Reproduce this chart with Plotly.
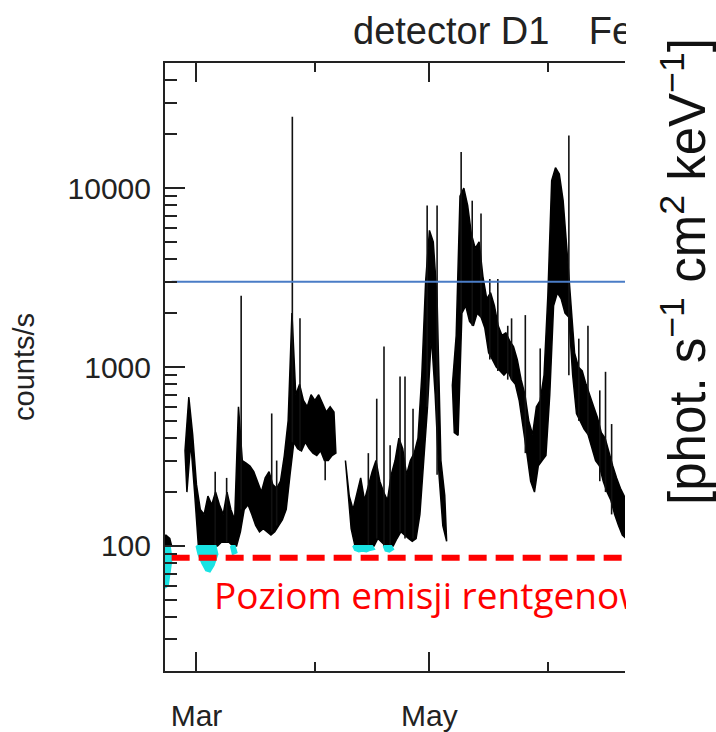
import math
import pandas as pd
import plotly.graph_objects as go

# ---------------- data ----------------
base_date = "2009-02-21"
days = list(range(-1, 122))
band_lo = [100, 100, 100, None, None, None, 200, 380, 200, 100,
           100, 100, 100, 100, 100, 105, 105, 105, 100, 100,
           120, 160, 170, 150, 130, 120, 125, 120, 115, 120,
           130, 140, 160, 250, 380, 350, 340, 380, 350, 330,
           320, 340, 300, 300, 320, 330, None, None, 230, 125,
           100, 100, 100, 100, 100, 100, 110, 105, 100, 100,
           100, 110, 120, 115, 110, 106, 110, 150, 300, 600,
           1500, 700, 250, 130, 106, None, 430, 415, 2000, 2200,
           1800, 1700, 2000, 1900, 1650, 1200, 1100, 1000, 950, 900,
           950, 850, 800, 650, 450, 330, 230, 200, 280, 300,
           320, 700, 2200, 2600, 2400, 2000, 1900, 900, 550, 500,
           450, 420, 350, 300, 280, 230, 200, 180, 150, 130,
           115, 110, 105]
band_hi = [112, 115, 110, None, None, None, 340, 680, 420, 220,
           160, 150, 190, 170, 200, 170, 150, 200, 160, 140,
           600, 300, 290, 280, 260, 230, 200, 240, 260, 220,
           210, 230, 320, 500, 2000, 700, 800, 650, 600, 700,
           650, 700, 620, 560, 600, 560, None, None, 300, 190,
           160, 200, 240, 180, 220, 260, 300, 230, 200, 180,
           250, 300, 400, 350, 250, 300, 330, 400, 900, 3000,
           5800, 5000, 2400, 300, 192, None, 790, 1500, 9000, 10000,
           8000, 5500, 4600, 5000, 3200, 2400, 2600, 2200, 1700, 1500,
           1550, 1400, 1300, 1100, 850, 700, 500, 420, 600, 650,
           900, 2500, 11000, 13000, 12000, 8500, 4500, 2400, 1200, 1000,
           950, 800, 700, 600, 520, 430, 400, 330, 280, 240,
           210, 190, 170]

spike_day = [12.9, 15.9, 19.7, 27.7, 29.0, 33.1, 35.1, 41.7, 53.0, 55.2,
             57.1, 58.7, 61.3, 62.6, 64.7, 68.4, 71.0, 77.3, 80.2, 82.5,
             84.8, 86.9, 89.5, 90.5, 94.1, 98.0, 105.5, 108.1, 110.5, 113.6,
             115.1, 116.7]
spike_val = [260, 240, 2500, 550, 300, 25000, 1870, 233, 330, 665,
             1300, 365, 885, 885, 585, 8000, 8000, 15900, 8500, 7200,
             3100, 3100, 1700, 1870, 1950, 1270, 19700, 1440, 1700, 740,
             940, 480]

cyan_days = [-1, 0, 1, 8, 9, 10, 11, 12, 13, 17, 18, 49, 50, 51, 52, 53, 54, 57, 58, 59]
cyan_lo = [58, 60, 85, 90, 80, 73, 72, 78, 90, 90, 92, 95, 93, 94, 93, 95, 96, 94, 93, 96]
cyan_top = 100

blue_level = 3000
red_level = 86
level_start_day = 1.5
x_range_days = [-0.24, 120.2]
y_range = [20, 50000]

x_tick_dates = ["2009-03-01", "2009-05-01"]
x_tick_text = ["Mar", "May"]
x_minor_dates = ["2009-04-01", "2009-06-01"]
y_tick_vals = [100, 1000, 10000]
y_tick_text = ["100", "1000", "10000"]
y_minor_vals = [m * 10 ** e for e in (1, 2, 3, 4) for m in range(2, 10) if m * 10 ** e <= 50000]

title_text = "detector D1\u00a0\u00a0\u00a0\u2009Fe"
ytitle_text = "counts/s"
red_text = "Poziom emisji rentgenow"
unit_text = "[phot. s<sup>\u22121</sup> cm<sup>2</sup> keV<sup>\u22121</sup>]"


# ---------------- helpers ----------------
def to_date(d):
    ts = pd.Timestamp(base_date) + pd.Timedelta(days=d)
    return ts.strftime("%Y-%m-%d %H:%M:%S")


def segments(day_list, values):
    segs, cur = [], []
    prev = None
    for d, v in zip(day_list, values):
        if v is None or (prev is not None and d != prev + 1):
            if cur:
                segs.append(cur)
            cur = []
        if v is not None:
            cur.append(d)
        prev = d
    if cur:
        segs.append(cur)
    return segs


fig = go.Figure()

# main band (daily min/max envelope), filled
lo_map = dict(zip(days, band_lo))
hi_map = dict(zip(days, band_hi))
for seg in segments(days, band_lo):
    xs = [to_date(d) for d in seg] + [to_date(d + 0.5) for d in reversed(seg)]
    ys = [hi_map[d] for d in seg] + [lo_map[d] for d in reversed(seg)]
    fig.add_trace(go.Scatter(x=xs + xs[:1], y=ys + ys[:1], mode="lines", fill="toself",
                             fillcolor="black", line=dict(color="black", width=1.5),
                             hoverinfo="skip"))

# spikes
sx, sy = [], []
for d, v in zip(spike_day, spike_val):
    base = lo_map.get(int(round(d)))
    if base is None:
        base = v
    sx += [to_date(d), to_date(d), None]
    sy += [base, v, None]
fig.add_trace(go.Scatter(x=sx, y=sy, mode="lines", line=dict(color="#111", width=1.6),
                         hoverinfo="skip"))

# cyan (below-threshold) parts
cyan_map = dict(zip(cyan_days, cyan_lo))
for seg in segments(cyan_days, cyan_lo):
    xs = [to_date(d) for d in seg] + [to_date(d + 0.5) for d in reversed(seg)]
    ys = [cyan_top] * len(seg) + [cyan_map[d] for d in reversed(seg)]
    fig.add_trace(go.Scatter(x=xs + xs[:1], y=ys + ys[:1], mode="lines", fill="toself",
                             fillcolor="#19e3e3", line=dict(color="#19e3e3", width=2),
                             hoverinfo="skip"))

fig.add_trace(go.Scatter(x=[to_date(level_start_day), to_date(x_range_days[1] + 5)],
                         y=[blue_level, blue_level], mode="lines",
                         line=dict(color="#4a7cc6", width=2), hoverinfo="skip"))
fig.add_trace(go.Scatter(x=[to_date(level_start_day), to_date(x_range_days[1] + 5)],
                         y=[red_level, red_level], mode="lines",
                         line=dict(color="#ff0000", width=6, dash="18px,9px"), hoverinfo="skip"))

L, R, T, B = 165, 91, 63, 61
W, H = 716, 732
pw, ph = W - L - R, H - T - B


def px(x):
    return (x - L) / pw


def py(y):
    return (H - B - y) / ph


axis_col = "#222"
tick_font = dict(family="Liberation Sans, Arial, sans-serif", size=30, color=axis_col)

fig.update_layout(
    width=W, height=H, margin=dict(l=L, r=R, t=T, b=B, pad=0, autoexpand=False),
    paper_bgcolor="white", plot_bgcolor="white", showlegend=False,
    xaxis=dict(type="date", range=[to_date(x_range_days[0]), to_date(x_range_days[1])],
               automargin=False,
               showline=True, linecolor=axis_col, linewidth=2, mirror="allticks",
               ticks="inside", ticklen=19, tickwidth=2, tickcolor=axis_col,
               tickmode="array", tickvals=x_tick_dates, ticktext=x_tick_text,
               tickfont=tick_font, ticklabelstandoff=17, showgrid=False, zeroline=False,
               minor=dict(tickmode="array", tickvals=x_minor_dates, ticks="inside",
                          ticklen=9, tickwidth=2, tickcolor=axis_col, showgrid=False)),
    yaxis=dict(type="log", range=[math.log10(y_range[0]), math.log10(y_range[1])],
               automargin=False,
               showline=True, linecolor=axis_col, linewidth=2, mirror=False,
               ticks="inside", ticklen=20, tickwidth=2, tickcolor=axis_col,
               tickmode="array", tickvals=y_tick_vals, ticktext=y_tick_text,
               tickfont=tick_font, ticklabelstandoff=6, showgrid=False, zeroline=False,
               minor=dict(tickmode="array", tickvals=y_minor_vals, ticks="inside",
                          ticklen=12, tickwidth=2, tickcolor=axis_col, showgrid=False)),
)

fig.add_annotation(text=title_text, xref="paper", yref="paper", x=px(352), y=py(31),
                   xanchor="left", yanchor="middle", width=625 - 352, align="left",
                   borderpad=0, showarrow=False,
                   font=dict(family="Liberation Sans, Arial, sans-serif", size=38, color=axis_col))
fig.add_annotation(text=ytitle_text, xref="paper", yref="paper", x=px(24), y=py(367),
                   xanchor="center", yanchor="middle", textangle=-90, showarrow=False,
                   font=dict(family="Liberation Sans, Arial, sans-serif", size=29, color=axis_col))
fig.add_annotation(text=red_text, xref="paper", yref="paper", x=px(213), y=py(594),
                   xanchor="left", yanchor="middle", width=625 - 213, align="left",
                   borderpad=0, showarrow=False,
                   font=dict(family="Open Sans, sans-serif", size=37, color="#ff0000"))
fig.add_annotation(text=unit_text, xref="paper", yref="paper", x=px(684), y=py(272),
                   xanchor="center", yanchor="middle", textangle=-90, showarrow=False,
                   font=dict(family="Liberation Sans, Arial, sans-serif", size=51, color="#111"))

fig.write_html("out.html")
